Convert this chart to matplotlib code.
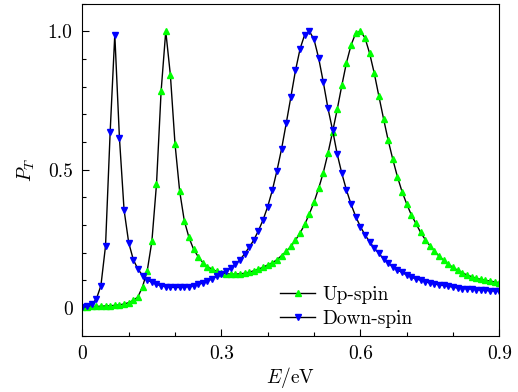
import numpy as np
import matplotlib
matplotlib.use("Agg")
import matplotlib.pyplot as plt
from matplotlib.ticker import MultipleLocator, FixedLocator

plt.rcParams['font.family'] = 'serif'
plt.rcParams['font.serif'] = ['cmr10', 'DejaVu Serif']
plt.rcParams['mathtext.fontset'] = 'cm'
plt.rcParams['axes.unicode_minus'] = False
plt.rcParams['axes.formatter.use_mathtext'] = True

# energy grid E/eV (0 .. 0.9, step 0.01)
energy = [round(0.01 * i, 2) for i in range(91)]

# transmission, up-spin
up_spin = [
    0.004, 0.004, 0.005, 0.005, 0.006, 0.007, 0.008, 0.009, 0.011, 0.014,
    0.019, 0.027, 0.040, 0.077, 0.134, 0.240, 0.447, 0.784, 1.000, 0.841,
    0.592, 0.422, 0.315, 0.255, 0.212, 0.185, 0.164, 0.149, 0.140, 0.132,
    0.127, 0.124, 0.122, 0.122, 0.123, 0.125, 0.129, 0.134, 0.140, 0.147,
    0.155, 0.163, 0.174, 0.189, 0.204, 0.222, 0.245, 0.271, 0.302, 0.340,
    0.382, 0.432, 0.489, 0.558, 0.636, 0.717, 0.804, 0.886, 0.950, 0.993,
    1.000, 0.976, 0.920, 0.848, 0.765, 0.684, 0.606, 0.537, 0.474, 0.420,
    0.376, 0.336, 0.305, 0.273, 0.247, 0.225, 0.205, 0.187, 0.172, 0.158,
    0.146, 0.136, 0.127, 0.119, 0.113, 0.107, 0.103, 0.100, 0.097, 0.094,
    0.091,
]

# transmission, down-spin
down_spin = [
    0.002, 0.005, 0.013, 0.031, 0.080, 0.224, 0.636, 0.988, 0.615, 0.354,
    0.236, 0.174, 0.140, 0.117, 0.102, 0.092, 0.085, 0.080, 0.077, 0.075,
    0.074, 0.074, 0.075, 0.077, 0.080, 0.085, 0.090, 0.097, 0.105, 0.114,
    0.123, 0.133, 0.144, 0.158, 0.173, 0.195, 0.219, 0.245, 0.279, 0.318,
    0.366, 0.425, 0.496, 0.575, 0.667, 0.762, 0.858, 0.937, 0.988, 1.000,
    0.970, 0.903, 0.816, 0.722, 0.643, 0.556, 0.486, 0.426, 0.374, 0.330,
    0.294, 0.264, 0.239, 0.216, 0.197, 0.177, 0.161, 0.149, 0.137, 0.128,
    0.119, 0.111, 0.105, 0.100, 0.095, 0.090, 0.087, 0.083, 0.081, 0.078,
    0.075, 0.072, 0.070, 0.069, 0.068, 0.066, 0.064, 0.063, 0.062, 0.061,
    0.060,
]

x_ticks = [0, 0.3, 0.6, 0.9]
x_tick_labels = ["0", "0.3", "0.6", "0.9"]
y_ticks = [0, 0.5, 1.0]
y_tick_labels = ["0", "0.5", "1.0"]

fig = plt.figure(figsize=(5.18, 3.92), dpi=100)
ax = fig.add_axes([0.159, 0.144, 0.805, 0.847])

ax.plot(energy, up_spin, '-', color='black', lw=1.0, marker='^',
        markersize=5, markerfacecolor='#00ff00', markeredgecolor='#00ff00',
        label='Up-spin')
ax.plot(energy, down_spin, '-', color='black', lw=1.0, marker='v',
        markersize=5, markerfacecolor='#0000ff', markeredgecolor='#0000ff',
        label='Down-spin')

ax.set_xlim(0, 0.9)
ax.set_ylim(-0.1, 1.1)
ax.xaxis.set_major_locator(FixedLocator(x_ticks))
ax.set_xticklabels(x_tick_labels)
ax.yaxis.set_major_locator(FixedLocator(y_ticks))
ax.set_yticklabels(y_tick_labels)
ax.xaxis.set_minor_locator(MultipleLocator(0.1))
ax.yaxis.set_minor_locator(MultipleLocator(0.1))
ax.tick_params(which='both', direction='in', labelsize=14, top=False, right=False)
ax.tick_params(which='major', length=5, width=0.8, pad=7)
ax.tick_params(which='minor', length=3, width=0.8)

ax.set_xlabel(r'$E/\mathrm{eV}$', fontsize=14, labelpad=1)
ax.set_ylabel(r'$P_T$', fontsize=14, labelpad=8)

ax.legend(loc='lower right', bbox_to_anchor=(0.835, -0.03), frameon=False,
          fontsize=14, handlelength=1.8, labelspacing=0.3, handletextpad=0.4)

fig.savefig('out.png', dpi=100)
